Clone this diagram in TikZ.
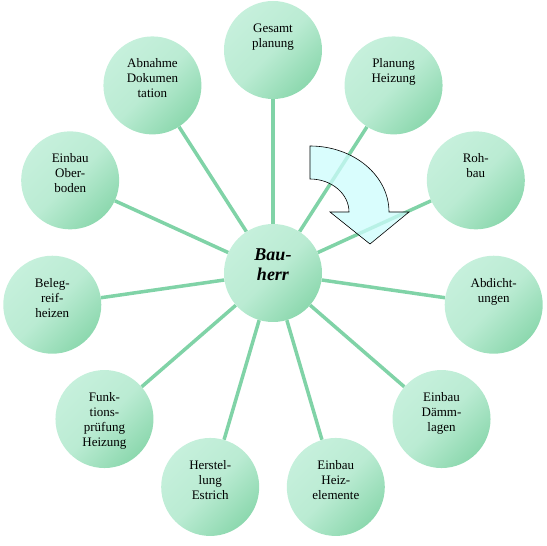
\documentclass[tikz,border=0pt]{standalone}
\usepackage{fontspec}
\setmainfont{Liberation Serif}
\usetikzlibrary{positioning,backgrounds}
\definecolor{MintLight}{HTML}{C6F0DC}
\definecolor{MintDark}{HTML}{8CD8AE}
\definecolor{Spoke}{HTML}{80D3A7}
\definecolor{Ice}{HTML}{CCFCFC}

\begin{document}
\begin{tikzpicture}[x=1pt,y=1pt,
 ball/.style={circle,minimum size=98pt,inner sep=0pt,align=center,text width=60pt,
   top color=MintLight,bottom color=MintDark,middle color=MintLight!80!MintDark,
   shading angle=45,font=\fontsize{13}{15}\selectfont,text depth=44pt},
 hub/.style={ball,font=\fontsize{18}{20}\selectfont\bfseries\itshape,text depth=37pt},
 spoke/.style={draw=Spoke,line width=3.5pt},
 turn/.style={draw=black,line width=0.6pt,fill=Ice,fill opacity=0.75}]
\useasboundingbox (-273,-273) rectangle (274,273);
\node[hub] (bauherr) at (0,0) {Bau-\\herr};
\node[ball] (gesamt) at (90:223) {Gesamt\\planung};
\node[ball] (planung) at (57.27:223) {Planung\\Heizung};
\node[ball] (rohbau) at (24.55:223) {Roh-\\bau};
\node[ball] (abdicht) at (-8.18:223) {Abdicht-\\ungen};
\node[ball] (daemm) at (-40.91:223) {Einbau\\Dämm-\\lagen};
\node[ball] (heiz) at (-73.64:223) {Einbau\\Heiz-\\elemente};
\node[ball] (estrich) at (-106.36:223) {Herstel-\\lung\\Estrich};
\node[ball] (funktion) at (-139.09:223) {Funk-\\tions-\\prüfung\\Heizung};
\node[ball] (beleg) at (-171.82:223) {Beleg-\\reif-\\heizen};
\node[ball] (boden) at (155.45:223) {Einbau\\Ober-\\boden};
\node[ball] (abnahme) at (122.73:223) {Abnahme\\Dokumen\\tation};
\begin{scope}[on background layer]
\draw[spoke] (bauherr)--(gesamt);\draw[spoke] (bauherr)--(planung);
\draw[spoke] (bauherr)--(rohbau);\draw[spoke] (bauherr)--(abdicht);
\draw[spoke] (bauherr)--(daemm);\draw[spoke] (bauherr)--(heiz);
\draw[spoke] (bauherr)--(estrich);\draw[spoke] (bauherr)--(funktion);
\draw[spoke] (bauherr)--(beleg);\draw[spoke] (bauherr)--(boden);
\draw[spoke] (bauherr)--(abnahme);
\end{scope}
% curved block arrow
\draw[turn] (37,127) -- (37,94) arc[start angle=90,end angle=0,x radius=39,y radius=33]
  -- (57,61) -- (97,29) -- (136,61) -- (116,61)
  arc[start angle=0,end angle=90,x radius=79,y radius=66] -- cycle;
\end{tikzpicture}
\end{document}
